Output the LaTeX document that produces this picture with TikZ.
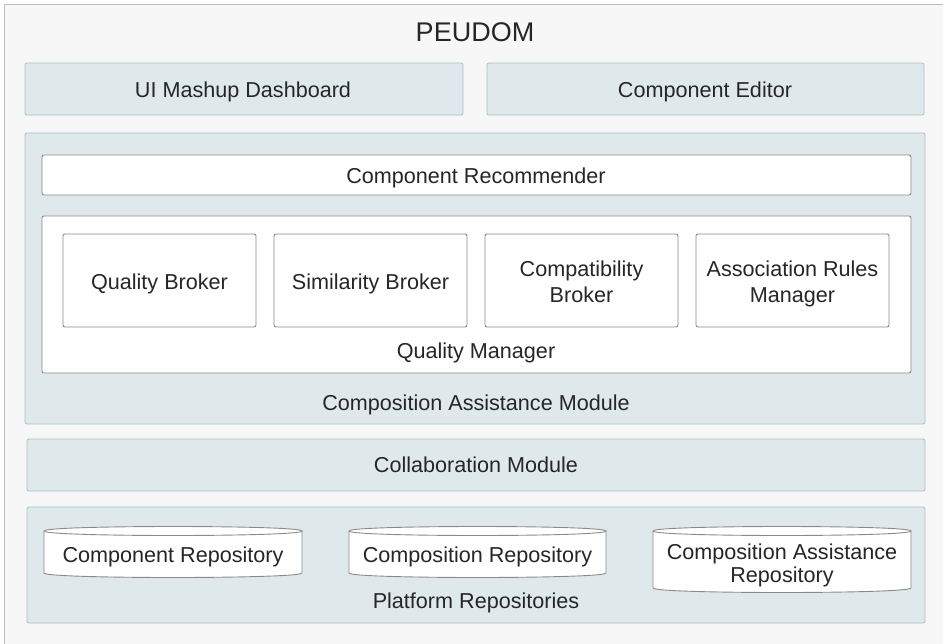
\documentclass[tikz,border=0pt]{standalone}
\usepackage{fontspec}
\setmainfont{Liberation Sans}
\definecolor{bgout}{HTML}{F7F7F7}
\definecolor{lineout}{HTML}{BDBDBD}
\definecolor{bluefill}{HTML}{DFE9EB}
\definecolor{blueline}{HTML}{A6C0C5}
\definecolor{grayline}{HTML}{8A8A8A}
\definecolor{txt}{HTML}{262626}
\begin{document}
\begin{tikzpicture}[x=1pt,y=-1pt,
  lbl/.style={text=txt,font=\fontsize{21.6}{26}\selectfont,align=center,inner sep=0pt,anchor=base},
  bluebox/.style={draw=blueline,fill=bluefill,rounded corners=2pt,line width=0.8pt},
  whitebox/.style={draw=grayline,fill=white,rounded corners=2pt,line width=0.9pt},
  repo/.style={draw=grayline,fill=white,line width=0.9pt}]
\useasboundingbox (0,0) rectangle (943,643);
% outer frame
\draw[draw=lineout,fill=bgout,line width=1pt] (4,4) rectangle (950,650);
\node[lbl,font=\fontsize{27}{30}\selectfont] (title) at (475,41.7) {PEUDOM};
% top row
\draw[bluebox] (25,63) rectangle (463,115);
\node[lbl] (dash) at (243,97.7) {UI Mashup Dashboard};
\draw[bluebox] (487,63) rectangle (924,115);
\node[lbl] (editor) at (705,97.7) {Component Editor};
% composition assistance module
\draw[bluebox] (25,133) rectangle (925,424);
\draw[whitebox] (42,155) rectangle (911,195);
\node[lbl] (recom) at (476,183.3) {Component Recommender};
\draw[whitebox] (42,216) rectangle (911,373);
\draw[whitebox] (63,234) rectangle (256,327);
\node[lbl] (qb) at (159.5,289.3) {Quality Broker};
\draw[whitebox] (274,234) rectangle (467,327);
\node[lbl] (sb) at (370.5,289.3) {Similarity Broker};
\draw[whitebox] (485,234) rectangle (678,327);
\node[lbl] (cb) at (581.5,302) {Compatibility\\Broker};
\draw[whitebox] (696,234) rectangle (889,327);
\node[lbl] (ar) at (792.5,302) {Association Rules\\Manager};
\node[lbl] (qm) at (476,358.3) {Quality Manager};
\node[lbl] (cam) at (476,410) {Composition Assistance Module};
% collaboration module
\draw[bluebox] (27,439) rectangle (925,491);
\node[lbl] (collab) at (476,472.7) {Collaboration Module};
% platform repositories
\draw[bluebox] (27,507) rectangle (925,623);
\node[lbl] (plat) at (476,608.3) {Platform Repositories};
% cylinders: x1, top y, x2, bottom y
\newcommand\drawrepo[4]{%
  \draw[repo] (#1,#2+4.5) -- (#1,#4-4.5) .. controls (#1,#4+1.5) and (#3,#4+1.5) .. (#3,#4-4.5) -- (#3,#2+4.5);
  \draw[repo] (#1,#2+4.5) .. controls (#1,#2-1.5) and (#3,#2-1.5) .. (#3,#2+4.5)
     .. controls (#3,#2+10.5) and (#1,#2+10.5) .. (#1,#2+4.5);
}
\drawrepo{44}{526.5}{302}{577.5}
\node[lbl] (crep) at (173,562) {Component Repository};
\drawrepo{349}{526.5}{606}{577.5}
\node[lbl] (cprep) at (477.5,562) {Composition Repository};
\drawrepo{653}{526.5}{911}{592.5}
\node[lbl,font=\fontsize{21.6}{23}\selectfont] (carep) at (782,582) {Composition Assistance\\Repository};
\end{tikzpicture}
\end{document}
